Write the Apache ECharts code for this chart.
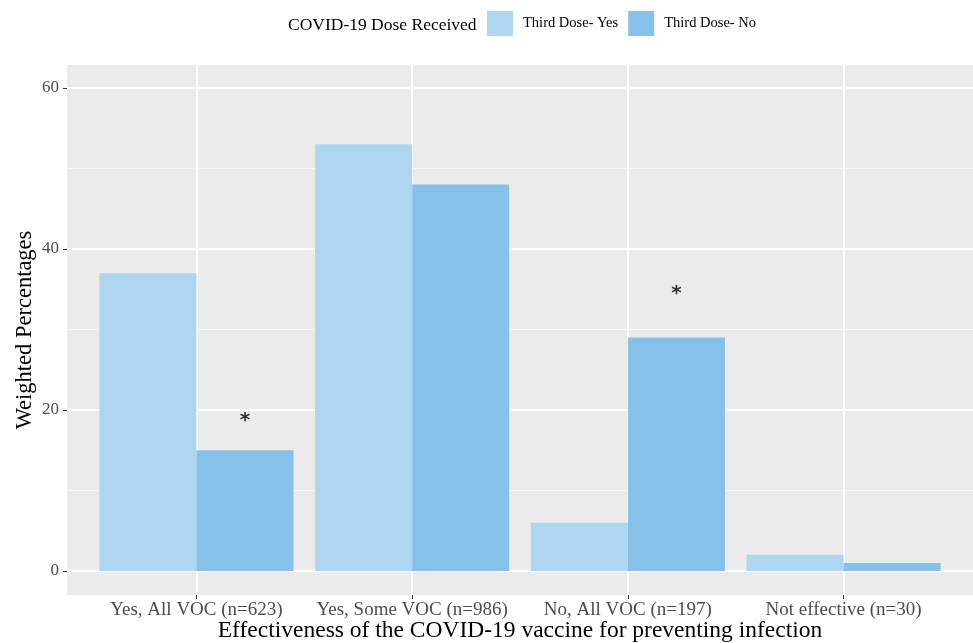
<!DOCTYPE html>
<html>
<head>
<meta charset="utf-8">
<script src="https://cdn.jsdelivr.net/npm/echarts@6/dist/echarts.min.js"></script>
<style>
  html, body { margin: 0; padding: 0; background: #ffffff; }
  #chart { width: 973px; height: 643px; }
</style>
</head>
<body>
<div id="chart"></div>
<script>
// Categories on the x axis
const categories = ['Yes, All VOC (n=623)', 'Yes, Some VOC (n=986)', 'No, All VOC (n=197)', 'Not effective (n=30)'];
// Weighted percentages by third-dose status
const thirdDoseYes = [37, 53, 6, 2];
const thirdDoseNo = [15, 48, 29, 1];
// Significance markers: [category index (1-based), height]
const sigMarks = [[1, 19], [3, 34.8]];
// Tick values
const yMajorTicks = [0, 20, 40, 60];
const yMinorTicks = [10, 30, 50];
const xTicks = [1, 2, 3, 4];

const FONT = '"Liberation Serif", "DejaVu Serif", serif';
const PANEL = '#ebebeb';

const chart = echarts.init(document.getElementById('chart'), null, { renderer: 'canvas' });

const yBase = {
  type: 'value',
  min: -2.99,
  max: 62.86,
  axisLine: { show: false }
};

chart.setOption({
  backgroundColor: '#ffffff',
  animation: false,
  textStyle: { fontFamily: FONT },
  grid: {
    left: 67, right: 0, top: 65, bottom: 48,
    containLabel: false,
    outerBoundsMode: 'none',
    show: true, backgroundColor: PANEL, borderWidth: 0
  },
  graphic: [{
    type: 'text',
    left: 288, top: 16,
    style: { text: 'COVID-19 Dose Received', font: '17.5px ' + FONT, fill: '#000000' }
  }],
  legend: {
    left: 487, top: 11,
    padding: 0,
    itemWidth: 26, itemHeight: 25,
    itemGap: 10,
    icon: 'rect',
    textStyle: { fontFamily: FONT, fontSize: 14.5, color: '#000000', padding: [0, 0, 0, 5] },
    data: ['Third Dose- Yes', 'Third Dose- No']
  },
  xAxis: {
    type: 'value',
    min: 0.4,
    max: 4.6,
    name: 'Effectiveness of the COVID-19 vaccine for preventing infection',
    nameLocation: 'middle',
    nameGap: 24,
    nameMoveOverlap: false,
    nameTextStyle: { fontFamily: FONT, fontSize: 23.5, color: '#000000' },
    axisLine: { show: false, onZero: false },
    axisTick: { show: true, customValues: xTicks, length: 4, lineStyle: { color: '#333333', width: 1 } },
    axisLabel: {
      customValues: xTicks,
      margin: 6,
      fontFamily: FONT, fontSize: 19, color: '#4d4d4d',
      formatter: v => categories[Math.round(v) - 1] || ''
    },
    splitLine: { show: true, lineStyle: { color: '#ffffff', width: 2 } }
  },
  yAxis: [
    Object.assign({}, yBase, {
      name: 'Weighted Percentages',
      nameLocation: 'middle',
      nameGap: 30,
      nameMoveOverlap: false,
      nameTextStyle: { fontFamily: FONT, fontSize: 22.5, color: '#000000' },
      axisTick: { show: true, customValues: yMajorTicks, length: 4, lineStyle: { color: '#333333', width: 1 } },
      axisLabel: { customValues: yMajorTicks, margin: 8, fontFamily: FONT, fontSize: 17, color: '#4d4d4d' },
      splitLine: { show: true, lineStyle: { color: '#ffffff', width: 2 } }
    }),
    Object.assign({}, yBase, {
      position: 'left',
      axisTick: { show: false, customValues: yMinorTicks },
      axisLabel: { show: false, customValues: yMinorTicks },
      splitLine: { show: true, lineStyle: { color: '#f7f7f7', width: 1 } }
    })
  ],
  series: [
    {
      name: 'Third Dose- Yes',
      type: 'bar',
      barGap: 0,
      barCategoryGap: '10%',
      itemStyle: { color: '#aed6f1' },
      data: thirdDoseYes.map((v, i) => [i + 1, v]),
      z: 3
    },
    {
      name: 'Third Dose- No',
      type: 'bar',
      barGap: 0,
      barCategoryGap: '10%',
      itemStyle: { color: '#85c1e9' },
      data: thirdDoseNo.map((v, i) => [i + 1, v]),
      z: 3
    },
    {
      name: 'sig',
      type: 'scatter',
      symbolSize: 0,
      silent: true,
      data: sigMarks.map(d => [d[0] + 0.225, d[1]]),
      label: {
        show: true,
        position: 'inside',
        formatter: '*',
        fontFamily: '"DejaVu Sans", sans-serif',
        fontWeight: 'bold',
        fontSize: 20,
        color: '#000000',
        offset: [0, 3]
      },
      z: 4
    }
  ]
});
</script>
</body>
</html>
